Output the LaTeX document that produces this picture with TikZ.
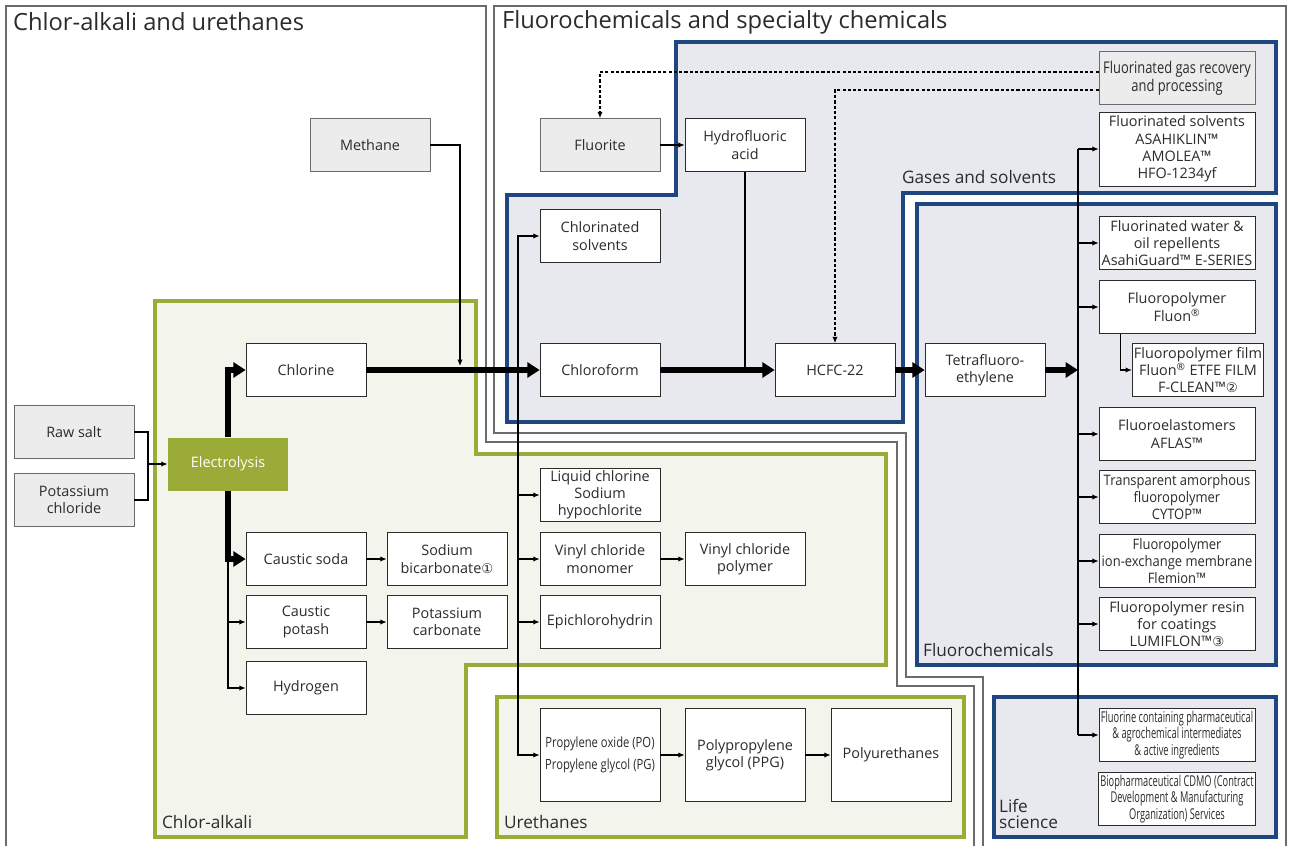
\documentclass[tikz,border=0pt]{standalone}
\usepackage{fontspec}
\setmainfont{Open Sans}
\newfontfamily\semifont[FakeStretch=0.9]{Open Sans}
\newfontfamily\narrowfont[FakeStretch=0.8]{Open Sans}
\newfontfamily\condfont[FakeStretch=0.62]{Open Sans}
\newfontfamily\circfont{DejaVu Sans}
\usetikzlibrary{arrows.meta}
\usetikzlibrary{calc}

\definecolor{bluefrm}{HTML}{1F467F}
\definecolor{bluebg}{HTML}{E8E9EF}
\definecolor{greenfrm}{HTML}{9AAB37}
\definecolor{greenbg}{HTML}{F3F4EC}
\definecolor{rawgrey}{HTML}{ECECEC}
\definecolor{frmgrey}{HTML}{6B6B6B}
\definecolor{txt}{HTML}{2B2B2B}

\newcommand{\circnum}[1]{{\circfont\fontsize{7.6}{8}\selectfont #1}}

\begin{document}
\begin{tikzpicture}[x=0.02cm, y=-0.02cm,
  every node/.style={text=txt, align=center, inner sep=1pt, font=\fontsize{8.2}{9.8}\selectfont},
  box/.style={draw=txt, fill=white, minimum width=2.4cm, minimum height=1.06cm},
  rawbox/.style={box, fill=rawgrey, draw=frmgrey},
  fbox/.style={box, minimum width=3.12cm},
  semibox/.style={fbox, font=\semifont\fontsize{8.2}{9.8}\selectfont},
  narrowbox/.style={font=\narrowfont\fontsize{8}{9.8}\selectfont},
  condbox/.style={fbox, font=\condfont\fontsize{8.5}{9.6}\selectfont},
  title/.style={anchor=west, font=\fontsize{13.5}{15}\selectfont},
  area/.style={anchor=west, font=\fontsize{9.8}{9.4}\selectfont, align=left},
  frame/.style={draw=frmgrey, line width=0.7pt},
  bluearea/.style={draw=bluefrm, fill=bluebg, line width=2pt},
  greenarea/.style={draw=greenfrm, fill=greenbg, line width=2pt},
  link/.style={line width=0.6pt},
  feed/.style={link, -{Latex[length=3.6pt,width=3pt]}},
  mainflow/.style={line width=3.3pt, -{Triangle[length=7pt,width=8.5pt]}},
  dashline/.style={feed, dash pattern=on 1.8pt off 1.2pt}]
\useasboundingbox (0,0) rectangle (1289,846);

\draw[frame] (6,846) -- (6,6) -- (486,6) -- (486,442) -- (897,442) -- (897,686) -- (974,686) -- (974,846);
\draw[frame] (983,846) -- (983,677) -- (906,677) -- (906,433) -- (494,433) -- (494,6) -- (1286,6) -- (1286,846);

\draw[bluearea] (676,42) -- (1276,42) -- (1276,193) -- (903,193) -- (903,422) -- (507,422) -- (507,195) -- (676,195) -- cycle;
\draw[bluearea] (917,204) rectangle (1276,665);
\draw[bluearea] (994,697) rectangle (1276,837);
\draw[greenarea] (155,301) -- (476,301) -- (476,454) -- (886,454) -- (886,665) -- (466,665) -- (466,837) -- (155,837) -- cycle;
\draw[greenarea] (497,697) rectangle (964,837);

\node[title] (ttl1) at (11,22) {Chlor-alkali and urethanes};
\node[title] (ttl2) at (500,22) {Fluorochemicals and specialty chemicals};
\node[area] (lgas) at (900,177) {Gases and solvents};
\node[area] (lfluo) at (921,650) {Fluorochemicals};
\node[area] (llife) at (997,814) {Life\\science};
\node[area] (lchlor) at (160,822) {Chlor-alkali};
\node[area] (lure) at (502,822) {Urethanes};

\node[rawbox] (methane) at (370,145) {Methane};
\node[rawbox] (fluorite) at (600,145) {Fluorite};
\node[box] (hf) at (745,145) {Hydrofluoric\\acid};
\node[box] (chlsolv) at (600,236) {Chlorinated\\solvents};
\node[box] (chlorine) at (306,370) {Chlorine};
\node[box] (chcl3) at (600,370) {Chloroform};
\node[box] (hcfc) at (835,370) {HCFC-22};
\node[box] (tfe) at (985,370) {Tetrafluoro-\\ethylene};
\node[rawbox] (salt) at (74,432) {Raw salt};
\node[rawbox] (kcl) at (74,500) {Potassium\\chloride};
\node[box, draw=none, fill=greenfrm, text=white] (elec) at (228,464) {Electrolysis};
\node[box] (soda) at (306,559) {Caustic soda};
\node[box] (bicarb) at (447,559) {Sodium\\bicarbonate\circnum{①}};
\node[box] (potash) at (306,622) {Caustic\\potash};
\node[box] (k2co3) at (447,622) {Potassium\\carbonate};
\node[box] (hydro) at (306,688) {Hydrogen};
\node[box] (liqcl) at (600,495) {Liquid chlorine\\Sodium\\hypochlorite};
\node[box] (vcm) at (600,559) {Vinyl chloride\\monomer};
\node[box] (pvc) at (745,559) {Vinyl chloride\\polymer};
\node[box] (epi) at (600,622) {Epichlorohydrin};
\node[box, narrowbox, minimum height=1.86cm] (popg) at (600,755) {Propylene oxide (PO)\\[3pt]Propylene glycol (PG)};
\node[box, minimum height=1.86cm] (ppg) at (745,755) {Polypropylene\\glycol (PPG)};
\node[box, minimum height=1.86cm] (pu) at (891,755) {Polyurethanes};

\node[rawbox, narrowbox, font=\narrowfont\fontsize{9.2}{10.4}\selectfont, minimum width=3.12cm] (gasrec) at (1177,78) {Fluorinated gas recovery\\and processing};
\node[fbox, minimum height=1.48cm] (fsolv) at (1177,149) {Fluorinated solvents\\ASAHIKLIN™\\AMOLEA™\\HFO-1234yf};
\node[fbox] (repel) at (1177,243) {Fluorinated water \&\\oil repellents\\AsahiGuard™ E-SERIES};
\node[fbox] (fluon) at (1177,307) {Fluoropolymer\\Fluon\textsuperscript{®}};
\node[box, minimum width=2.62cm] (film) at (1198,370) {Fluoropolymer film\\Fluon\textsuperscript{®} ETFE FILM\\F-CLEAN™\circnum{②}};
\node[fbox] (elast) at (1177,434) {Fluoroelastomers\\AFLAS™};
\node[semibox] (cytop) at (1177,497) {Transparent amorphous\\fluoropolymer\\CYTOP™};
\node[semibox] (flemion) at (1177,561) {Fluoropolymer\\ion-exchange membrane\\Flemion™};
\node[fbox] (lumi) at (1177,624) {Fluoropolymer resin\\for coatings\\LUMIFLON™\circnum{③}};
\node[condbox] (pharma) at (1177,735) {Fluorine containing pharmaceutical\\\& agrochemical intermediates\\\& active ingredients};
\node[condbox] (cdmo) at (1177,799) {Biopharmaceutical CDMO (Contract\\Development \& Manufacturing\\Organization) Services};

\coordinate (jn) at (148,464);
\draw[link] (salt.east) -| (jn);
\draw[link] (kcl.east) -| (jn);
\draw[feed] (jn) -- (elec.west);
\draw[mainflow] (elec.north) |- (chlorine.west);
\draw[mainflow] (elec.south) |- (soda.west);
\draw[feed] (elec.south |- soda.west) |- (potash.west);
\draw[feed] (elec.south |- soda.west) |- (hydro.west);
\draw[feed] (soda.east) -- (bicarb.west);
\draw[feed] (potash.east) -- (k2co3.west);
\draw[mainflow] (chlorine.east) -- (chcl3.west);
\coordinate (mj) at (460,366);
\draw[feed] (methane.east) -| (mj);
\coordinate (clbus) at (518,370);
\draw[feed] (clbus) |- (chlsolv.west);
\draw[feed] (clbus) |- (popg.west);
\foreach \n in {liqcl,vcm,epi} \draw[feed] (clbus |- \n.west) -- (\n.west);
\draw[feed] (vcm.east) -- (pvc.west);
\draw[feed] (popg.east) -- (ppg.west);
\draw[feed] (ppg.east) -- (pu.west);
\draw[feed] (fluorite.east) -- (hf.west);
\draw[link] (hf.south) -- (hf.south |- chcl3.east);
\draw[mainflow] (chcl3.east) -- (hcfc.west);
\draw[mainflow] (hcfc.east) -- (tfe.west);
\coordinate (fbus) at (1078,370);
\draw[mainflow] (tfe.east) -- (fbus);
\draw[link] (fbus |- fsolv.west) -- (fbus |- pharma.west);
\foreach \n in {fsolv,repel,fluon,elast,cytop,flemion,lumi,pharma} \draw[feed] (fbus |- \n.west) -- (\n.west);
\draw[feed] ($(fluon.south west)+(22,0)$) |- (film.west);
\draw[dashline] ($(gasrec.west)+(0,-6)$) -| (fluorite.north);
\draw[dashline] ($(gasrec.west)+(0,12)$) -| (hcfc.north);
\end{tikzpicture}
\end{document}
